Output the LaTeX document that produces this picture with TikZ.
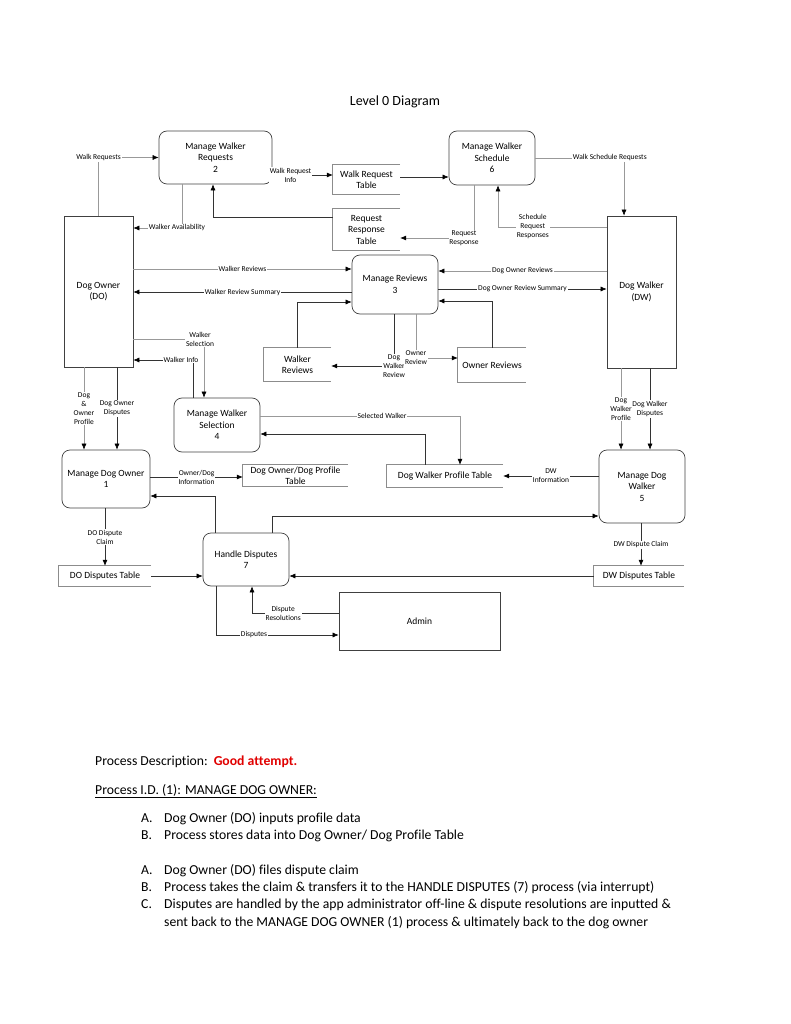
\documentclass[tikz,border=0pt]{standalone}
\usepackage{fontspec}
\setmainfont{Carlito}[Ligatures=NoCommon]
\usetikzlibrary{arrows.meta}
\begin{document}
\begin{tikzpicture}[x=1pt,y=-1pt,
  proc/.style={draw=black!75, line width=0.7pt, rounded corners=8pt, inner sep=0pt, align=center, font=\fontsize{9.5}{11.5}\selectfont},
  ent/.style={draw=black!75, line width=0.7pt, inner sep=0pt, align=center, font=\fontsize{9.5}{11.5}\selectfont},
  store/.style={inner sep=0pt, align=center, font=\fontsize{9.5}{11.5}\selectfont},
  stl/.style={draw=black!45, line width=0.7pt},
  lbl/.style={fill=white, inner sep=0.8pt, align=center, font=\fontsize{7.5}{9}\selectfont},
  arr/.style={-{Latex[length=6pt,width=5pt,color=black]}},
  dk/.style={draw=black!80, line width=0.6pt},
  gl/.style={draw=black!40, line width=0.6pt},
  body/.style={anchor=base west, inner sep=0pt, font=\fontsize{13.7}{16}\selectfont}
]
\useasboundingbox (0,0) rectangle (791,1024);

\node[inner sep=0pt, font=\fontsize{14}{16}\selectfont] (title) at (395,102) {Level 0 Diagram};

% processes
\node[proc, minimum width=113pt, minimum height=53pt] (mwr) at (215.5,157.5) {Manage Walker\\Requests\\2};
\node[proc, minimum width=86pt, minimum height=54pt] (mws) at (492,158) {Manage Walker\\Schedule\\6};
\node[proc, minimum width=86pt, minimum height=59pt] (mr) at (395,284.5) {Manage Reviews\\3};
\node[proc, minimum width=86pt, minimum height=54pt] (msel) at (217,425) {Manage Walker\\Selection\\4};
\node[proc, minimum width=88pt, minimum height=58pt] (mdo) at (106,479) {Manage Dog Owner\\1};
\node[proc, minimum width=86pt, minimum height=73pt] (mdw) at (642,486.5) {Manage Dog\\Walker\\5};
\node[proc, minimum width=86pt, minimum height=53pt] (hd) at (246,559.5) {Handle Disputes\\7};

% entities
\node[ent, minimum width=69pt, minimum height=151pt] (downer) at (98.5,291.5) {Dog Owner\\(DO)};
\node[ent, minimum width=69pt, minimum height=152pt] (dwalker) at (641.5,292) {Dog Walker\\(DW)};
\node[ent, minimum width=161pt, minimum height=58pt] (admin) at (419.5,621) {Admin};

% data stores
\node[store, minimum width=67pt, minimum height=29pt] (wrt) at (366.5,179.5) {Walk Request\\Table};
\node[store, minimum width=67pt, minimum height=41pt] (rrt) at (366.5,229.5) {Request\\Response\\Table};
\node[store, minimum width=67pt, minimum height=33pt] (wrs) at (297.5,364.5) {Walker\\Reviews};
\node[store, minimum width=68pt, minimum height=34pt] (ors) at (492,365) {Owner Reviews};
\node[store, minimum width=105pt, minimum height=21pt] (dopt) at (295.5,475.5) {Dog Owner/Dog Profile\\Table};
\node[store, minimum width=116pt, minimum height=22pt] (dwpt) at (445,476) {Dog Walker Profile Table};
\node[store, minimum width=92pt, minimum height=20pt] (dodt) at (105,576) {DO Disputes Table};
\node[store, minimum width=90pt, minimum height=20pt] (dwdt) at (639,576) {DW Disputes Table};
\foreach \s in {wrt,rrt,wrs,ors,dopt,dwpt,dodt,dwdt}
  \draw[stl] (\s.north east) -- (\s.north west) -- (\s.south west) -- (\s.south east);

% connectors
\draw[gl,arr] (downer.north) |- node[lbl,pos=0.5]{Walk Requests} (mwr.west);
\draw[gl,arr] (mwr.south -| 182,0) |- node[lbl,pos=0.5,xshift=-5pt]{Walker Availability} (downer.east |- 0,228);
\draw[dk,arr] (mwr.east |- 0,175) -- node[lbl,pos=0.3]{Walk Request\\Info} (wrt.west |- 0,175);
\draw[dk,arr] (wrt.east |- 0,177) -- (mws.west |- 0,177);
\draw[dk,arr] (rrt.west |- 0,217) -| (mwr.south -| 213,0);
\draw[gl,arr] (mws.south -| 474,0) |- node[lbl,pos=0.5,xshift=-10pt]{Request\\Response} (rrt.east |- 0,238);
\draw[gl,arr] (dwalker.west |- 0,227) -| node[lbl,pos=0.34]{Schedule\\Request\\Responses} (mws.south -| 498,0);
\draw[gl,arr] (mws.east) -| node[lbl,pos=0.42]{Walk Schedule Requests} (dwalker.north -| 624,0);

\draw[gl,arr] (downer.east |- 0,269) -- node[lbl]{Walker Reviews} (mr.west |- 0,269);
\draw[dk,arr] (mr.west |- 0,292) -- node[lbl]{Walker Review Summary} (downer.east |- 0,292);
\draw[dk,arr] (wrs.north) |- (mr.west |- 0,302);
\draw[dk,arr] (mr.south -| 394,0) |- node[lbl,pos=0.5]{Dog\\Walker\\Review} (wrs.east |- 0,366);
\draw[gl,arr] (mr.south -| 416,0) |- node[lbl,pos=0.5]{Owner\\Review} (ors.west |- 0,358);
\draw[dk,arr] (ors.north) |- (mr.east |- 0,301);
\draw[gl,arr] (dwalker.west |- 0,271) -- node[lbl]{Dog Owner Reviews} (mr.east |- 0,271);
\draw[dk,arr] (mr.east |- 0,289) -- node[lbl]{Dog Owner Review Summary} (dwalker.west |- 0,289);

\draw[gl,arr] (downer.east |- 0,339) -| node[lbl,pos=0.5,xshift=-4pt]{Walker\\Selection} (msel.north -| 204,0);
\draw[dk,arr] (msel.north -| 193,0) |- node[lbl,pos=0.5,xshift=-12pt]{Walker Info} (downer.east |- 0,360);
\draw[gl,arr] (downer.south -| 84,0) -- node[lbl]{Dog\\\&\\Owner\\Profile} (mdo.north -| 84,0);
\draw[dk,arr] (downer.south -| 117,0) -- node[lbl]{Dog Owner\\Disputes} (mdo.north -| 117,0);
\draw[gl,arr] (msel.east |- 0,416) -| node[lbl,pos=0.305]{Selected Walker} (dwpt.north -| 460,0);
\draw[dk,arr] (dwpt.north -| 425,0) |- (msel.east |- 0,434);
\draw[dk,arr] (mdo.east |- 0,477) -- node[lbl]{Owner/Dog\\Information} (dopt.west |- 0,477);
\draw[dk,arr] (mdw.west |- 0,476) -- node[lbl]{DW\\Information} (dwpt.east |- 0,476);
\draw[gl,arr] (dwalker.south -| 621,0) -- node[lbl]{Dog\\Walker\\Profile} (mdw.north -| 621,0);
\draw[dk,arr] (dwalker.south -| 650,0) -- node[lbl]{Dog Walker\\Disputes} (mdw.north -| 650,0);

\draw[dk,arr] (hd.north -| 215,0) |- (mdo.east |- 0,496);
\draw[dk,arr] (hd.north -| 272,0) |- (mdw.west |- 0,516);
\draw[dk,arr] (mdo.south -| 105,0) -- node[lbl]{DO Dispute\\Claim} (dodt.north);
\draw[dk,arr] (dodt.east) -- (hd.west |- dodt.east);
\draw[dk,arr] (dwdt.west) -- (hd.east |- dwdt.west);
\draw[dk,arr] (mdw.south -| 641,0) -- node[lbl]{DW Dispute Claim} (dwdt.north -| 641,0);
\draw[dk,arr] (admin.west |- 0,613) -| node[lbl,pos=0.32]{Dispute\\Resolutions} (hd.south -| 252,0);
\draw[dk,arr] (hd.south -| 216,0) |- node[lbl,pos=0.655]{Disputes} (admin.west |- 0,635);

% description text
\node[body] (pd) at (95,765) {Process Description:\hspace{6pt}\textcolor[HTML]{E00000}{\textbf{Good attempt.}}};
\node[body] (pid) at (95,794) {\underline{Process I.D. (1): MANAGE DOG OWNER:}};
\node[body] (l1) at (141,822) {\makebox[23pt][l]{A.}Dog Owner (DO) inputs profile data};
\node[body] (l2) at (141,839) {\makebox[23pt][l]{B.}Process stores data into Dog Owner/ Dog Profile Table};
\node[body] (l3) at (141,874) {\makebox[23pt][l]{A.}Dog Owner (DO) files dispute claim};
\node[body] (l4) at (141,891) {\makebox[23pt][l]{B.}Process takes the claim \& transfers it to the HANDLE DISPUTES (7) process (via interrupt)};
\node[body] (l5) at (141,908) {\makebox[23pt][l]{C.}Disputes are handled by the app administrator off-line \& dispute resolutions are inputted \&};
\node[body] (l6) at (164,926) {sent back to the MANAGE DOG OWNER (1) process \& ultimately back to the dog owner};
\end{tikzpicture}
\end{document}
